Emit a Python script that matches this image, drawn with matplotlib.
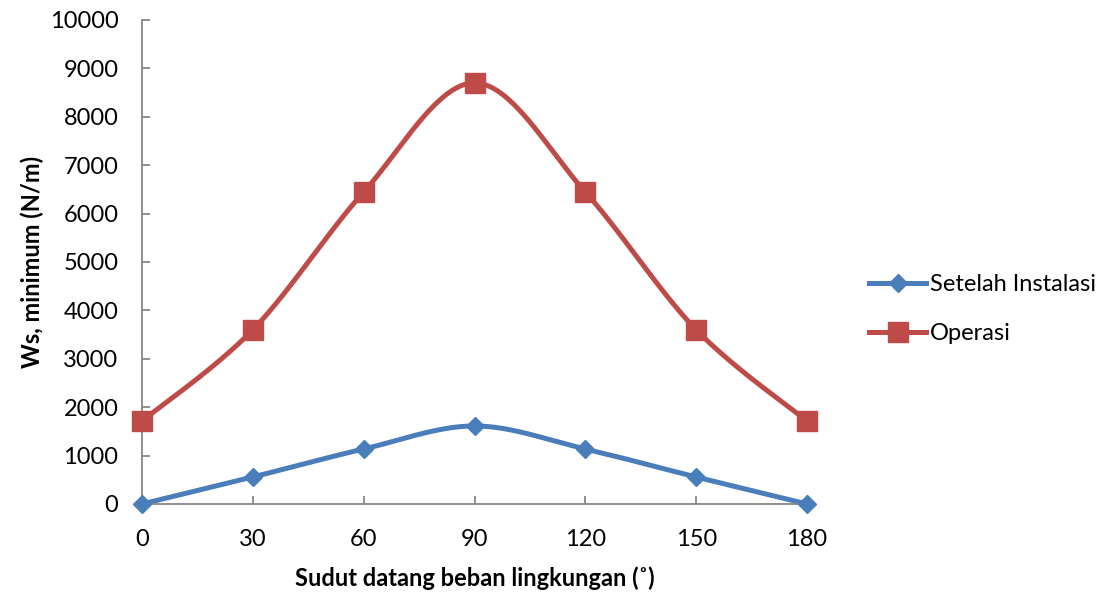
import numpy as np
import matplotlib
matplotlib.use("Agg")
import matplotlib.pyplot as plt
from matplotlib.lines import Line2D

angles = [0, 30, 60, 90, 120, 150, 180]
setelah_instalasi = [0, 558, 1136, 1612, 1136, 558, 0]
operasi = [1715, 3600, 6446, 8700, 6446, 3600, 1715]
series_names = ["Setelah Instalasi", "Operasi"]
yticks = list(range(0, 10001, 1000))

plt.rcParams['font.family'] = ['Lato', 'DejaVu Sans']

BLUE = "#4A7EBB"
RED = "#BE4B48"
GRAY = "#868686"


def excel_smooth(x, y, n=40):
    """Bezier smoothing like Excel's smoothed line (Catmull-Rom style, 1/6 tension)."""
    x = np.asarray(x, float)
    y = np.asarray(y, float)
    P = np.column_stack([x, y])
    out = [P[0]]
    t = np.linspace(0, 1, n)[1:]
    for i in range(len(P) - 1):
        p0 = P[i - 1] if i > 0 else P[i]
        p1 = P[i]
        p2 = P[i + 1]
        p3 = P[i + 2] if i + 2 < len(P) else P[i + 1]
        c1 = p1 + (p2 - p0) / 6.0
        c2 = p2 - (p3 - p1) / 6.0
        seg = ((1 - t) ** 3)[:, None] * p1 + (3 * (1 - t) ** 2 * t)[:, None] * c1 \
            + (3 * (1 - t) * t ** 2)[:, None] * c2 + (t ** 3)[:, None] * p2
        out.extend(seg)
    out = np.array(out)
    return out[:, 0], out[:, 1]


fig = plt.figure(figsize=(11.05, 5.93), dpi=100)
ax = fig.add_axes([142 / 1105, 89 / 593, (807 - 142) / 1105, (504 - 20) / 593])

for vals, color, marker, ms, name in [
    (setelah_instalasi, BLUE, "D", 9, series_names[0]),
    (operasi, RED, "s", 14, series_names[1]),
]:
    sx, sy = excel_smooth(angles, vals)
    ax.plot(sx, sy, color=color, lw=3.6, solid_capstyle="round", zorder=2, clip_on=False)
    ax.plot(angles, vals, linestyle="none", marker=marker, ms=ms,
            color=color, markeredgecolor=color, zorder=3, clip_on=False)

ax.set_xlim(0, 180)
ax.set_ylim(0, 10000)
ax.set_xticks(angles)
ax.set_yticks(yticks)
ax.tick_params(axis="both", direction="in", length=6, width=1.3, color=GRAY,
               labelsize=17)
ax.tick_params(axis="x", pad=18)
ax.tick_params(axis="y", pad=17)
for s in ["top", "right"]:
    ax.spines[s].set_visible(False)
for s in ["left", "bottom"]:
    ax.spines[s].set_color(GRAY)
    ax.spines[s].set_linewidth(1.3)

ax.set_xlabel("Sudut datang beban lingkungan (˚)", fontsize=17, fontweight="bold", labelpad=12)
ax.set_ylabel("Ws, minimum (N/m)", fontsize=17, fontweight="bold", labelpad=4)

handles = [
    Line2D([], [], color=BLUE, lw=3.6, marker="D", ms=9, markeredgecolor=BLUE),
    Line2D([], [], color=RED, lw=3.6, marker="s", ms=14, markeredgecolor=RED),
]
fig.legend(handles, series_names, loc="center left",
           bbox_to_anchor=(860 / 1105, 1 - 309 / 593), frameon=False,
           fontsize=17, handlelength=2.4, handletextpad=0.15, labelspacing=1.2,
           borderaxespad=0)

fig.savefig("out.png", dpi=100)
